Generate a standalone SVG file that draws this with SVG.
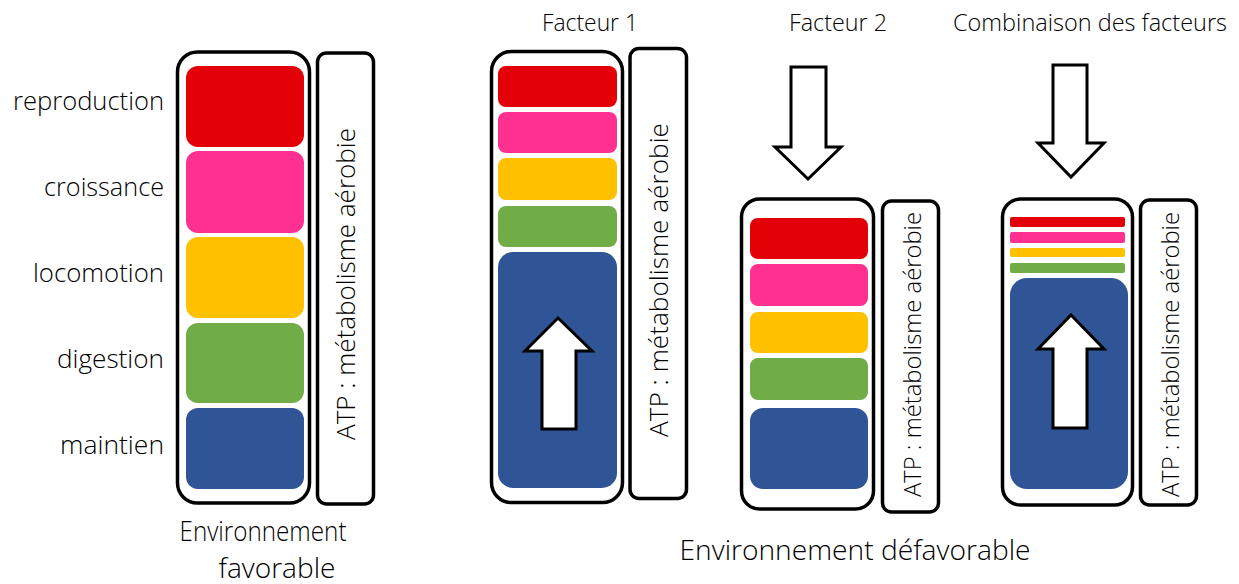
<svg xmlns="http://www.w3.org/2000/svg" width="1239" height="584" viewBox="0 0 1239 584">
<style>
text{font-family:"Open Sans","Liberation Sans",sans-serif;font-weight:300;fill:#000}
.lbl{font-size:26px;text-anchor:end}
.ttl{font-size:24.5px;text-anchor:middle}
.bot{font-size:28px;text-anchor:middle}
.atp{font-size:25.5px;text-anchor:middle}
.atps{font-size:23.5px;text-anchor:middle}
.box{fill:#fff;stroke:#000;stroke-width:3.5}
.r{fill:#e30007}.p{fill:#ff3090}.y{fill:#ffc000}.g{fill:#70ad47}.b{fill:#2f5597}
.arr{fill:#fff;stroke:#000;stroke-width:3;stroke-linejoin:miter}
</style>
<g id="labels">
<text class="lbl" x="164" y="110" textLength="151" lengthAdjust="spacingAndGlyphs">reproduction</text>
<text class="lbl" x="164" y="196" textLength="120" lengthAdjust="spacingAndGlyphs">croissance</text>
<text class="lbl" x="164" y="282" textLength="131" lengthAdjust="spacingAndGlyphs">locomotion</text>
<text class="lbl" x="164" y="368" textLength="107" lengthAdjust="spacingAndGlyphs">digestion</text>
<text class="lbl" x="164" y="454" textLength="104" lengthAdjust="spacingAndGlyphs">maintien</text>
</g>
<g id="favorable">
<rect class="box" x="177.5" y="52" width="132" height="451" rx="20"/>
<rect class="r" x="186" y="66" width="118" height="81" rx="12"/>
<rect class="p" x="186" y="151" width="118" height="82" rx="12"/>
<rect class="y" x="186" y="237" width="118" height="81" rx="12"/>
<rect class="g" x="186" y="323" width="118" height="80" rx="12"/>
<rect class="b" x="186" y="408" width="118" height="81" rx="12"/>
</g>
<g id="atp1">
<rect class="box" x="317.5" y="53" width="56" height="451" rx="9"/>
<text class="atp" transform="translate(355,284) rotate(-90)" textLength="312" lengthAdjust="spacingAndGlyphs">ATP : métabolisme aérobie</text>
</g>
<g id="facteur1">
<text class="ttl" x="590" y="31" textLength="96" lengthAdjust="spacingAndGlyphs">Facteur 1</text>
<rect class="box" x="491.5" y="51.5" width="131" height="451" rx="20"/>
<rect class="r" x="498" y="66" width="119" height="41" rx="8"/>
<rect class="p" x="498" y="112" width="119" height="41" rx="8"/>
<rect class="y" x="498" y="158" width="119" height="42" rx="8"/>
<rect class="g" x="498" y="206" width="119" height="41" rx="8"/>
<rect class="b" x="498" y="252" width="119" height="236" rx="15"/>
<path class="arr" d="M558,318 L592,351 L576,351 L576,429 L542,429 L542,351 L525,351 Z"/>
</g>
<g id="atp2">
<rect class="box" x="630" y="48.5" width="56.5" height="450" rx="9"/>
<text class="atp" transform="translate(668,280) rotate(-90)" textLength="314" lengthAdjust="spacingAndGlyphs">ATP : métabolisme aérobie</text>
</g>
<g id="facteur2">
<text class="ttl" x="838" y="31" textLength="98" lengthAdjust="spacingAndGlyphs">Facteur 2</text>
<path class="arr" d="M791,67 L826,67 L826,147 L841,147 L808,179 L775,147 L791,147 Z"/>
<rect class="box" x="741.5" y="199" width="132" height="310" rx="18"/>
<rect class="r" x="750" y="218" width="118" height="41" rx="8"/>
<rect class="p" x="750" y="264" width="118" height="42" rx="8"/>
<rect class="y" x="750" y="312" width="118" height="41" rx="8"/>
<rect class="g" x="750" y="358" width="118" height="42" rx="8"/>
<rect class="b" x="750" y="408" width="118" height="81" rx="13"/>
</g>
<g id="atp3">
<rect class="box" x="882.5" y="201" width="56" height="311" rx="9"/>
<text class="atps" transform="translate(921,354.5) rotate(-90)" textLength="285" lengthAdjust="spacingAndGlyphs">ATP : métabolisme aérobie</text>
</g>
<g id="combinaison">
<text class="ttl" x="1090" y="31" textLength="274" lengthAdjust="spacingAndGlyphs">Combinaison des facteurs</text>
<path class="arr" d="M1053,65 L1087,65 L1087,143 L1104,143 L1071,177 L1038,143 L1053,143 Z"/>
<rect class="box" x="1002.5" y="199" width="130" height="306" rx="18"/>
<rect class="r" x="1010" y="217" width="115" height="10" rx="2"/>
<rect class="p" x="1010" y="232" width="115" height="11" rx="2"/>
<rect class="y" x="1010" y="248" width="115" height="9" rx="2"/>
<rect class="g" x="1010" y="263" width="115" height="10" rx="2"/>
<rect class="b" x="1010" y="278" width="118" height="211" rx="17"/>
<path class="arr" d="M1071,315 L1104,349 L1087,349 L1087,428 L1053,428 L1053,349 L1038,349 Z"/>
</g>
<g id="atp4">
<rect class="box" x="1140.5" y="200" width="56" height="305" rx="9"/>
<text class="atps" transform="translate(1179,354.5) rotate(-90)" textLength="285" lengthAdjust="spacingAndGlyphs">ATP : métabolisme aérobie</text>
</g>
<g id="bottom">
<text class="bot" x="263" y="541" textLength="167" lengthAdjust="spacingAndGlyphs">Environnement</text>
<text class="bot" x="277" y="578" textLength="117" lengthAdjust="spacingAndGlyphs">favorable</text>
<text class="bot" x="855" y="560" textLength="351" lengthAdjust="spacingAndGlyphs">Environnement défavorable</text>
</g>
</svg>
